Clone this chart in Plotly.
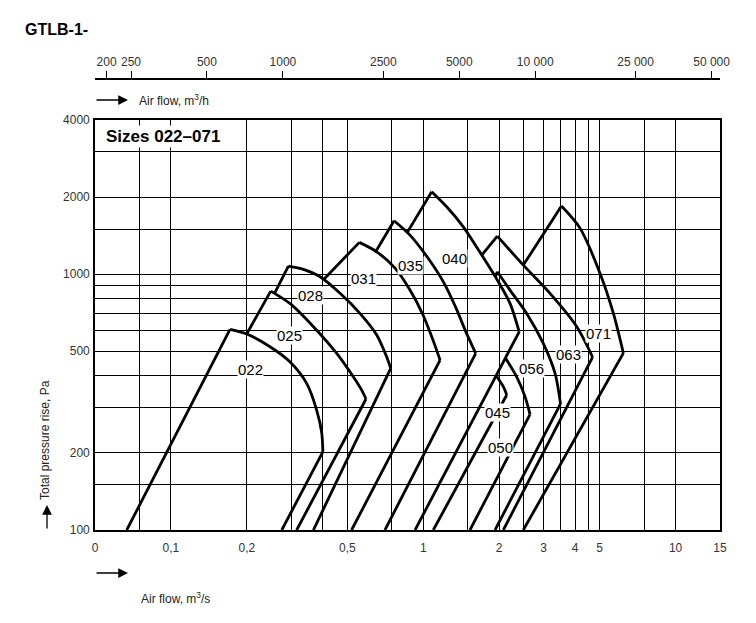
import math
import plotly.graph_objects as go

SANS = "Liberation Sans, Arial, sans-serif"

# ---- axes / grid values ----
flow_grid = [0.05, 0.075, 0.1, 0.2, 0.3, 0.4, 0.5, 0.75, 1, 1.5, 2, 2.5, 3, 3.5, 4, 4.5, 5, 7.5, 10, 15]
flow_tick_labels = {0.05: "0", 0.1: "0,1", 0.2: "0,2", 0.5: "0,5", 1: "1", 2: "2", 3: "3",
                    4: "4", 5: "5", 10: "10", 15: "15"}
pressure_grid = [100, 150, 200, 300, 400, 500, 600, 700, 800, 900, 1000, 1500, 2000, 3000, 4000]
pressure_tick_labels = {100: "100", 200: "200", 500: "500", 1000: "1000", 2000: "2000", 4000: "4000"}
flow_h_ticks = [200, 250, 500, 1000, 2500, 5000, 10000, 25000, 50000]
flow_h_labels = ["200", "250", "500", "1000", "2500", "5000", "10 000", "25 000", "50 000"]
flow_range = [0.05, 15]
pressure_range = [100, 4000]

# ---- fan curves: [leg start, peak, ... arc ..., nose, bottom end] ----
sizes = ["022", "025", "028", "031", "035", "040", "045", "050", "056", "063", "071"]
flow_022 = [0.0668, 0.1714, 0.1996, 0.247, 0.296, 0.345, 0.378, 0.396, 0.400, 0.275]
pres_022 = [100, 608, 583, 520, 454, 374, 294, 239, 202, 100]
flow_025 = [0.1996, 0.2486, 0.296, 0.367, 0.454, 0.528, 0.570, 0.593, 0.315]
pres_025 = [583, 858, 768, 623, 490, 397, 352, 325, 100]
flow_028 = [0.258, 0.292, 0.335, 0.39, 0.468, 0.561, 0.654, 0.716, 0.743, 0.367]
pres_028 = [845, 1074, 1043, 976, 841, 702, 578, 475, 428, 100]
flow_031 = [0.402, 0.558, 0.654, 0.773, 0.886, 0.998, 1.093, 1.166, 0.52]
pres_031 = [950, 1330, 1222, 1055, 866, 692, 552, 461, 100]
flow_035 = [0.645, 0.766, 0.886, 1.044, 1.209, 1.349, 1.477, 1.614, 0.705]
pres_035 = [1215, 1616, 1420, 1155, 922, 736, 593, 490, 100]
flow_040 = [0.8645, 1.080, 1.238, 1.441, 1.705, 1.984, 2.207, 2.40, 0.928]
pres_040 = [1455, 2097, 1832, 1530, 1187, 933, 768, 595, 100]
flow_045 = [1.95, 1.95, 2.077, 2.142, 1.096]
pres_045 = [400, 400, 363, 337, 100]
flow_050 = [2.12, 2.12, 2.346, 2.531, 2.65, 1.532]
pres_050 = [469, 469, 397, 332, 283, 100]
flow_056 = [1.93, 1.966, 2.207, 2.57, 2.99, 3.33, 3.50, 1.925]
pres_056 = [975, 1021, 866, 702, 536, 409, 311, 100]
flow_063 = [1.705, 1.966, 2.492, 3.18, 4.06, 4.69, 2.077]
pres_063 = [1187, 1407, 1084, 841, 623, 474, 100]
flow_071 = [2.492, 3.53, 4.18, 5.02, 5.67, 6.21, 2.492]
pres_071 = [1084, 1844, 1512, 1006, 702, 491, 100]

label_flow = [0.206, 0.294, 0.356, 0.582, 0.894, 1.324, 1.961, 2.015, 2.673, 3.78, 4.97]
label_pres = [425, 578, 828, 965, 1084, 1155, 289, 211, 429, 483, 588]

curves = {
    "022": (flow_022, pres_022), "025": (flow_025, pres_025), "028": (flow_028, pres_028),
    "031": (flow_031, pres_031), "035": (flow_035, pres_035), "040": (flow_040, pres_040),
    "045": (flow_045, pres_045), "050": (flow_050, pres_050), "056": (flow_056, pres_056),
    "063": (flow_063, pres_063), "071": (flow_071, pres_071),
}

fig = go.Figure()
LW = 2.8
for s in sizes:
    fx, py = curves[s]
    fig.add_trace(go.Scatter(x=fx[0:2], y=py[0:2], mode="lines",
                             line=dict(color="black", width=LW), hoverinfo="skip", showlegend=False))
    fig.add_trace(go.Scatter(x=fx[1:-1], y=py[1:-1], mode="lines",
                             line=dict(color="black", width=LW, shape="spline", smoothing=0.8),
                             hoverinfo="skip", showlegend=False))
    fig.add_trace(go.Scatter(x=fx[-2:], y=py[-2:], mode="lines",
                             line=dict(color="black", width=LW), hoverinfo="skip", showlegend=False))

# invisible trace carrying the top (m3/h) axis
fig.add_trace(go.Scatter(x=[flow_range[0] * 3600, flow_range[1] * 3600], y=[100, 100], xaxis="x2",
                         mode="markers", marker=dict(opacity=0), hoverinfo="skip", showlegend=False))

# ---- layout geometry (reference pixels; page body has an 8px margin) ----
OFF = 8
W, H = 756 - OFF, 623 - OFF
ml, mr, mt, mb = 95 - OFF, 36, 40 - OFF, 93
pw, ph = W - ml - mr, H - mt - mb
plot_top_px = 120
top_axis_px = 79


def px_x(x):
    return (x - OFF - ml) / pw


def px_y(y):
    return (H - mb - (y - OFF)) / ph


tick_font = dict(family=SANS, size=12, color="#333333")

fig.update_layout(
    width=W, height=H, margin=dict(l=ml, r=mr, t=mt, b=mb),
    paper_bgcolor="white", plot_bgcolor="white",
    xaxis=dict(type="log", range=[math.log10(flow_range[0]), math.log10(flow_range[1])],
               tickvals=flow_grid, ticktext=[flow_tick_labels.get(v, "") for v in flow_grid],
               showgrid=True, gridcolor="black", gridwidth=1.2,
               showline=True, linecolor="black", linewidth=1.6, mirror=True,
               ticks="", ticklabelstandoff=6,
               tickfont=tick_font, zeroline=False, anchor="y"),
    yaxis=dict(type="log", range=[math.log10(pressure_range[0]), math.log10(pressure_range[1])],
               domain=[0, px_y(plot_top_px)],
               tickvals=pressure_grid, ticktext=[pressure_tick_labels.get(v, "") for v in pressure_grid],
               showgrid=True, gridcolor="black", gridwidth=1.2,
               showline=True, linecolor="black", linewidth=1.6, mirror=True,
               ticks="", ticklabelstandoff=1,
               tickfont=tick_font, zeroline=False),
    xaxis2=dict(type="log", overlaying="x", side="top", anchor="free", position=px_y(top_axis_px),
                range=[math.log10(flow_range[0] * 3600), math.log10(flow_range[1] * 3600)],
                tickvals=flow_h_ticks, ticktext=flow_h_labels,
                showgrid=False, showline=True, linecolor="black", linewidth=1.6,
                ticks="outside", ticklen=7, tickcolor="black", tickwidth=1.2,
                tickfont=tick_font, zeroline=False),
)

ann = []
for s, lf, lp in zip(sizes, label_flow, label_pres):
    ann.append(dict(x=math.log10(lf), y=math.log10(lp), xref="x", yref="y", text=s, showarrow=False,
                    font=dict(family=SANS, size=15, color="black"), bgcolor="white", borderpad=0))

ann.append(dict(x=px_x(104), y=px_y(136), xref="paper", yref="paper", xanchor="left", yanchor="middle",
                text="<b>Sizes 022\u2013071</b>", showarrow=False, bgcolor="white", borderpad=1,
                font=dict(family=SANS, size=17, color="black")))
ann.append(dict(x=px_x(23), y=px_y(30), xref="paper", yref="paper", xanchor="left", yanchor="middle",
                text="<b>GTLB-1-</b>", showarrow=False, font=dict(family=SANS, size=16, color="black")))

# axis titles with arrows
ann.append(dict(x=px_x(128), y=px_y(100), xref="paper", yref="paper", text="", showarrow=True,
                ax=-33, ay=0, arrowhead=2, arrowsize=1.5, arrowwidth=1.3, arrowcolor="black"))
ann.append(dict(x=px_x(137), y=px_y(100), xref="paper", yref="paper", xanchor="left", yanchor="middle",
                text="Air flow, m<sup>3</sup>/h", showarrow=False,
                font=dict(family=SANS, size=12, color="#222222")))
ann.append(dict(x=px_x(128), y=px_y(573), xref="paper", yref="paper", text="", showarrow=True,
                ax=-33, ay=0, arrowhead=2, arrowsize=1.5, arrowwidth=1.3, arrowcolor="black"))
ann.append(dict(x=px_x(139), y=px_y(598), xref="paper", yref="paper", xanchor="left", yanchor="middle",
                text="Air flow, m<sup>3</sup>/s", showarrow=False,
                font=dict(family=SANS, size=12, color="#222222")))
ann.append(dict(x=px_x(47), y=px_y(505), xref="paper", yref="paper", text="", showarrow=True,
                ax=0, ay=25, arrowhead=2, arrowsize=1.5, arrowwidth=1.3, arrowcolor="black"))
ann.append(dict(x=px_x(45), y=px_y(440), xref="paper", yref="paper", xanchor="center", yanchor="middle",
                text="Total pressure rise, Pa", textangle=-90, showarrow=False,
                font=dict(family=SANS, size=12, color="#222222")))

fig.update_layout(annotations=ann)
fig.write_html("out.html")
